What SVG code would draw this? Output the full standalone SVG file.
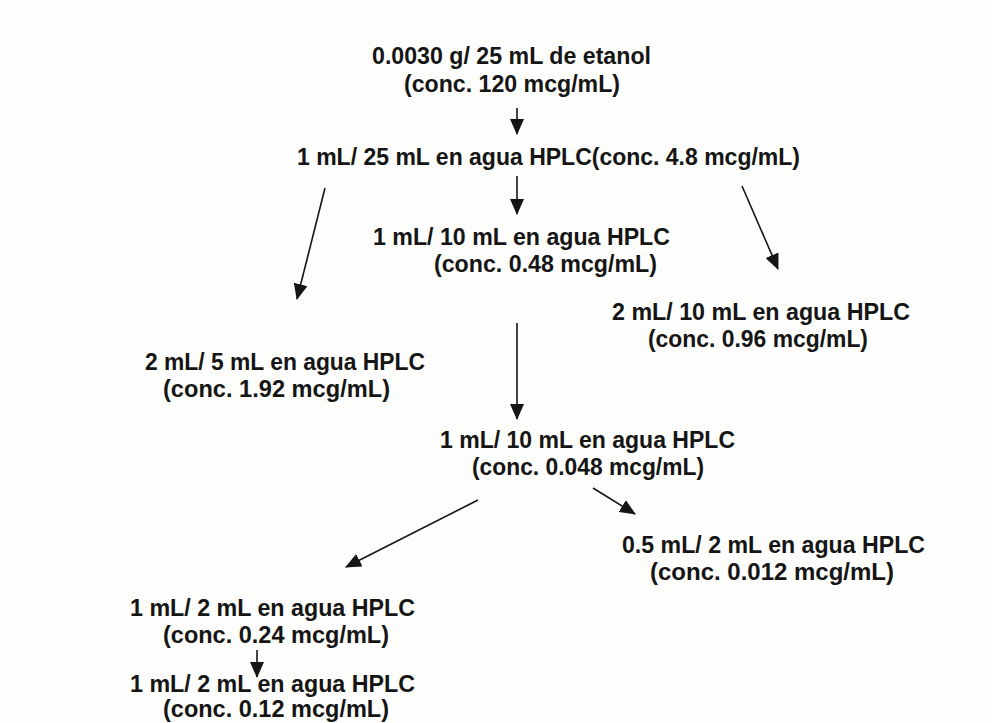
<svg xmlns="http://www.w3.org/2000/svg" width="992" height="723" viewBox="0 0 992 723">
<defs>
<style>
.t{font-family:"Liberation Sans",Arial,sans-serif;font-weight:bold;font-size:23px;fill:#151515;text-anchor:middle}
.n{font-size:24px}
.c line{stroke:#151515;stroke-width:1.6;marker-end:url(#ah)}
</style>
<marker id="ah" markerUnits="userSpaceOnUse" markerWidth="16" markerHeight="14" viewBox="0 0 16 14" refX="15" refY="7" orient="auto">
<path d="M0,0 L16,7 L0,14 Z" fill="#151515"/>
</marker>
</defs>
<rect width="992" height="723" fill="#fdfdfb"/>
<g id="n1"><text class="t" x="511.5" y="64" textLength="279" lengthAdjust="spacingAndGlyphs">0.0030 g/ 25 mL de etanol</text><text class="t" x="512" y="92" textLength="216" lengthAdjust="spacingAndGlyphs">(conc. 120 mcg/mL)</text></g>
<g id="n2"><text class="t" x="548.5" y="165" textLength="503" lengthAdjust="spacingAndGlyphs">1 mL/ 25 mL en agua HPLC(conc. 4.8 mcg/mL)</text></g>
<g id="n3"><text class="t" x="521.5" y="245" textLength="297" lengthAdjust="spacingAndGlyphs">1 mL/ 10 mL en agua HPLC</text><text class="t" x="545.5" y="272" textLength="223" lengthAdjust="spacingAndGlyphs">(conc. 0.48 mcg/mL)</text></g>
<g id="n4"><text class="t" x="761" y="320" textLength="298" lengthAdjust="spacingAndGlyphs">2 mL/ 10 mL en agua HPLC</text><text class="t" x="758" y="347" textLength="220" lengthAdjust="spacingAndGlyphs">(conc. 0.96 mcg/mL)</text></g>
<g id="n5"><text class="t" x="285" y="370" textLength="280" lengthAdjust="spacingAndGlyphs">2 mL/ 5 mL en agua HPLC</text><text class="t" x="276.5" y="397" textLength="227" lengthAdjust="spacingAndGlyphs">(conc. 1.92 mcg/mL)</text></g>
<g id="n6"><text class="t n" x="587.5" y="448" textLength="295" lengthAdjust="spacingAndGlyphs">1 mL/ 10 mL en agua HPLC</text><text class="t n" x="588" y="475" textLength="232" lengthAdjust="spacingAndGlyphs">(conc. 0.048 mcg/mL)</text></g>
<g id="n7"><text class="t n" x="773.5" y="553" textLength="303" lengthAdjust="spacingAndGlyphs">0.5 mL/ 2 mL en agua HPLC</text><text class="t n" x="772" y="580" textLength="244" lengthAdjust="spacingAndGlyphs">(conc. 0.012 mcg/mL)</text></g>
<g id="n8"><text class="t n" x="272.5" y="616" textLength="285" lengthAdjust="spacingAndGlyphs">1 mL/ 2 mL en agua HPLC</text><text class="t n" x="276" y="643" textLength="226" lengthAdjust="spacingAndGlyphs">(conc. 0.24 mcg/mL)</text></g>
<g id="n9"><text class="t n" x="272.5" y="692" textLength="285" lengthAdjust="spacingAndGlyphs">1 mL/ 2 mL en agua HPLC</text><text class="t n" x="276" y="717" textLength="226" lengthAdjust="spacingAndGlyphs">(conc. 0.12 mcg/mL)</text></g>
<g id="connectors" class="c">
<line x1="517" y1="108" x2="517" y2="134"/>
<line x1="517" y1="176" x2="517" y2="214"/>
<line x1="325" y1="188" x2="297" y2="299"/>
<line x1="742" y1="186" x2="778" y2="269"/>
<line x1="517" y1="323" x2="517" y2="419"/>
<line x1="478" y1="500" x2="346" y2="567"/>
<line x1="593" y1="488" x2="635" y2="514"/>
<line x1="257" y1="650" x2="257" y2="677"/>
</g>
</svg>
